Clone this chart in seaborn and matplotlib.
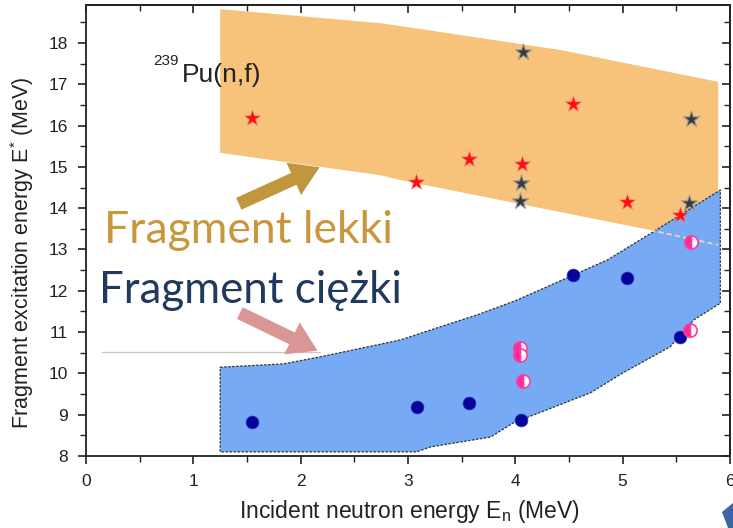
import numpy as np
import pandas as pd
import matplotlib
matplotlib.use("Agg")
import matplotlib.pyplot as plt
import seaborn as sns
from matplotlib.patches import Polygon
from matplotlib.ticker import MultipleLocator

# ---- data -------------------------------------------------------------
# light-fragment band (upper / lower edge)
light_top_x = [1.25, 2.74, 2.93, 4.42, 5.89]
light_top_y = [18.82, 18.48, 18.41, 17.83, 17.06]
light_bot_x = [1.25, 2.74, 2.93, 5.26, 5.89]
light_bot_y = [15.34, 14.80, 14.68, 13.47, 13.11]

# heavy-fragment band (upper / lower edge)
heavy_top_x = [1.25, 1.84, 2.18, 2.93, 3.21, 3.67, 4.02, 4.54, 4.86, 5.28, 5.91]
heavy_top_y = [10.15, 10.23, 10.40, 10.81, 11.05, 11.44, 11.78, 12.38, 12.75, 13.42, 14.44]
heavy_bot_x = [1.25, 3.08, 3.21, 3.77, 3.98, 4.70, 5.00, 5.44, 5.66, 5.91]
heavy_bot_y = [8.10, 8.10, 8.22, 8.46, 8.80, 9.53, 10.01, 10.64, 11.29, 11.70]

# light fragments, red stars
red_star_en = [1.55, 3.07, 3.57, 4.06, 4.54, 5.04, 5.53]
red_star_e = [16.18, 14.63, 15.19, 15.07, 16.52, 14.15, 13.84]
# light fragments, dark stars
dark_star_en = [4.07, 4.05, 4.04, 5.64, 5.62]
dark_star_e = [17.78, 14.62, 14.18, 16.15, 14.12]

# heavy fragments, navy dots
navy_en = [1.55, 3.08, 3.57, 4.05, 4.54, 5.04, 5.53]
navy_e = [8.82, 9.19, 9.28, 8.87, 12.38, 12.31, 10.88]
# heavy fragments, half-filled pink dots
pink_en = [4.04, 4.04, 4.07, 5.63, 5.64]
pink_e = [10.62, 10.45, 9.82, 11.05, 13.18]

x_ticks = [0, 1, 2, 3, 4, 5, 6]
y_ticks = [8, 9, 10, 11, 12, 13, 14, 15, 16, 17, 18]

# ---- style ------------------------------------------------------------
sns.set_theme(style="ticks")
plt.rcParams["font.family"] = ["Liberation Sans", "DejaVu Sans"]
plt.rcParams["mathtext.fontset"] = "custom"
plt.rcParams["mathtext.rm"] = "Liberation Sans"
plt.rcParams["mathtext.it"] = "Liberation Sans:italic"
plt.rcParams["mathtext.default"] = "regular"

W, H = 733, 528
fig = plt.figure(figsize=(W / 100, H / 100), dpi=100)
ax = fig.add_axes([86 / W, 1 - 456 / H, (730 - 86) / W, (456 - 5) / H])

ORANGE = "#f7c279"
BLUE = "#76aaf5"

# light band
light_poly = list(zip(light_top_x, light_top_y)) + list(zip(light_bot_x, light_bot_y))[::-1]
ax.add_patch(Polygon(light_poly, closed=True, facecolor=ORANGE, edgecolor="none", zorder=1))

# heavy band with dotted outline
heavy_poly = list(zip(heavy_top_x, heavy_top_y)) + list(zip(heavy_bot_x, heavy_bot_y))[::-1]
ax.add_patch(Polygon(heavy_poly, closed=True, facecolor=BLUE, edgecolor="none", zorder=2))
outline = np.array(heavy_poly + [heavy_poly[0]])
ax.plot(outline[:, 0], outline[:, 1], color="#333333", lw=0.9, ls=(0, (2.0, 1.2)), zorder=3)

# continuation of the light band's lower edge across the heavy band
ax.plot(light_bot_x[-2:], light_bot_y[-2:], color="#f6dcb0", lw=1.2, ls=(0, (3, 2)), zorder=3)

# thin guide line
ax.plot([0.15, 2.18], [10.52, 10.52], color="#c8c8c8", lw=0.9, zorder=1)

# points
stars = pd.DataFrame({"En": red_star_en, "E": red_star_e})
sns.scatterplot(data=stars, x="En", y="E", marker="*", s=150, color="#ff1010",
                edgecolor="#ff8080", linewidth=0.4, ax=ax, zorder=5)
dstars = pd.DataFrame({"En": dark_star_en, "E": dark_star_e})
sns.scatterplot(data=dstars, x="En", y="E", marker="*", s=150, color="#3a3a3a",
                edgecolor="#9a9a9a", linewidth=0.8, ax=ax, zorder=5)
navy = pd.DataFrame({"En": navy_en, "E": navy_e})
sns.scatterplot(data=navy, x="En", y="E", marker="o", s=85, color="#05059a",
                edgecolor="#3030c0", linewidth=0.5, ax=ax, zorder=5)
ax.plot(pink_en, pink_e, ls="none", marker="o", ms=9.5, fillstyle="left",
        markerfacecolor="#ff2a9a", markerfacecoloralt="white",
        markeredgecolor="#ff3aa0", markeredgewidth=1.2, zorder=5)

# axes
ax.set_xlim(0, 6)
ax.set_ylim(8, 18.92)
ax.set_xticks(x_ticks)
ax.set_yticks(y_ticks)
ax.xaxis.set_minor_locator(MultipleLocator(0.5))
ax.yaxis.set_minor_locator(MultipleLocator(0.5))
ax.tick_params(which="major", direction="out", length=6, width=1.2, labelsize=12.5,
               colors="#222222", pad=7)
ax.tick_params(which="minor", direction="out", length=4, width=1.0, colors="#222222")
for s in ax.spines.values():
    s.set_linewidth(1.3)
    s.set_color("#222222")

for side, axis in (("top", "x"), ("right", "y")):
    sec = ax.secondary_xaxis(side) if axis == "x" else ax.secondary_yaxis(side)
    if axis == "x":
        sec.set_xticks(x_ticks)
        sec.xaxis.set_minor_locator(MultipleLocator(0.5))
    else:
        sec.set_yticks(y_ticks)
        sec.yaxis.set_minor_locator(MultipleLocator(0.5))
    sec.tick_params(which="major", direction="in", length=6, width=1.2, colors="#222222",
                    labeltop=False, labelright=False)
    sec.tick_params(which="minor", direction="in", length=4, width=1.0, colors="#222222")
    sec.spines[side].set_linewidth(1.3)

ax.set_xlabel("Incident neutron energy E$_\\mathrm{n}$ (MeV)", fontsize=16.5,
              color="#222222")
ax.xaxis.set_label_coords(0.503, -0.094)
ax.set_ylabel("Fragment excitation energy E$^{*}$ (MeV)", fontsize=15.5,
              color="#222222")
ax.yaxis.set_label_coords(-0.078, 0.45)

# reaction label
fig.text(153 / W, 1 - 65 / H, "239", fontsize=11, color="#222222", va="baseline")
fig.text(182 / W, 1 - 82 / H, "Pu(n,f)", fontsize=19, color="#222222", va="baseline")

# band labels and arrows
fig.text(104 / W, 1 - 243 / H, "Fragment lekki", fontsize=32, color="#c9963c",
         va="baseline", family=["Lato", "DejaVu Sans"])
fig.text(99 / W, 1 - 303 / H, "Fragment ciężki", fontsize=31.5, color="#1f3a5c",
         va="baseline", family=["Lato", "DejaVu Sans"])

ax.annotate("", xy=(2.20, 15.02), xytext=(1.40, 14.08),
            arrowprops=dict(arrowstyle="simple,head_width=1.5,head_length=1.2,tail_width=0.55",
                            color="#c0963f", lw=0, mutation_scale=17), zorder=6)
ax.annotate("", xy=(2.18, 10.52), xytext=(1.41, 11.49),
            arrowprops=dict(arrowstyle="simple,head_width=1.5,head_length=1.2,tail_width=0.55",
                            color="#d99694", lw=0, mutation_scale=17), zorder=6)

# corner of a neighbouring shape
fig.patches.append(Polygon([(722 / W, 1 - 512 / H), (733 / W, 1 - 503 / H),
                            (733 / W, 0), (728 / W, 0)], closed=True,
                           transform=fig.transFigure, facecolor="#3c66a4", edgecolor="none"))

fig.savefig("out.png", dpi=100)
